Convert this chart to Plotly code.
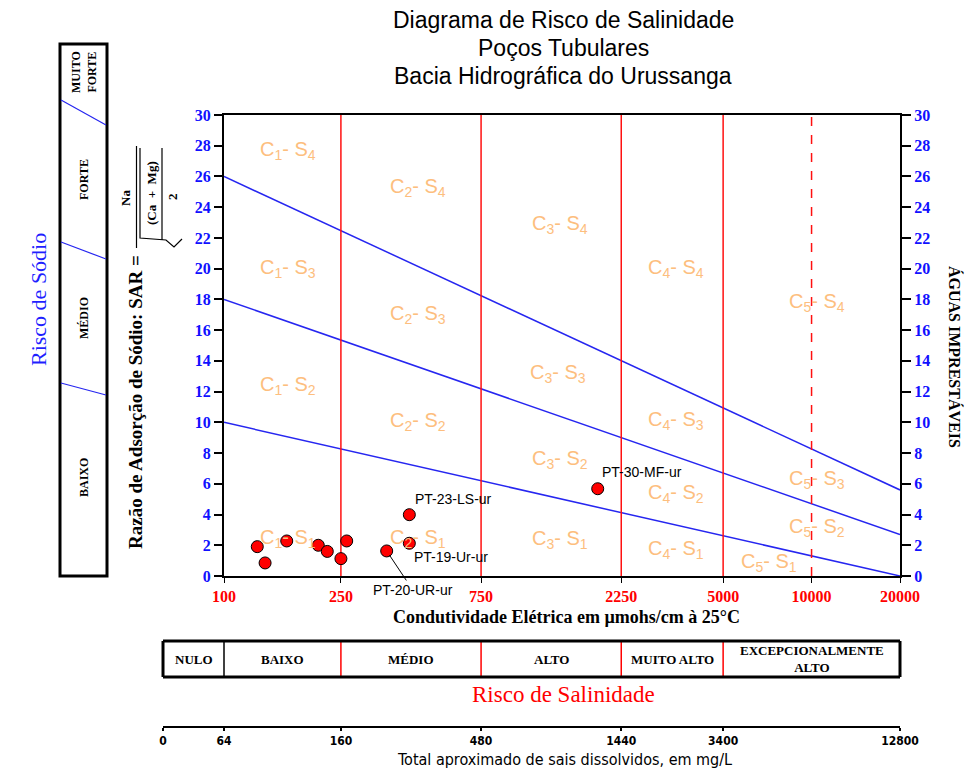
import math
import plotly.graph_objects as go

W, H = 967, 769

# ---------------- data ----------------
ec_points = [129.8, 138.0, 163.5, 209.4, 224.7, 250.0, 261.6, 357.9, 427.4, 427.4, 1871.0]
sar_points = [1.91, 0.85, 2.28, 2.00, 1.60, 1.13, 2.28, 1.63, 3.99, 2.13, 5.68]
point_names = ["", "", "", "", "", "", "", "PT-20-UR-ur", "PT-23-LS-ur", "PT-19-Ur-ur", "PT-30-MF-ur"]

ec_limits = [100, 20000]
sodium_line_start = [10, 18, 26]   # SAR at 100 µmhos/cm
sodium_line_end = [0, 2.7, 5.6]    # SAR at 20000 µmhos/cm

salinity_limits = [250, 750, 2250, 5000]
salinity_dashed = [10000]

ec_ticks = [100, 250, 750, 2250, 5000, 10000, 20000]
ec_tick_labels = ["100", "250", "750", "2250", "5000", "10000", "20000"]
sar_ticks = [0, 2, 4, 6, 8, 10, 12, 14, 16, 18, 20, 22, 24, 26, 28, 30]

tds_ec_equiv = [62.0, 100, 250, 750, 2250, 5000, 20000]
tds_labels = ["0", "64", "160", "480", "1440", "3400", "12800"]

salinity_classes = ["NULO", "BAIXO", "MÉDIO", "ALTO", "MUITO ALTO", "EXCEPCIONALMENTE<br>ALTO"]
salinity_edges = [62.0, 100, 250, 750, 2250, 5000, 20000]
salinity_edge_colors = ["black", "black", "red", "red", "red", "red", "black"]

sodium_classes = ["BAIXO", "MÉDIO", "FORTE", "MUITO<br>FORTE"]

zone_c = [1, 2, 3, 4, 5,  1, 2, 3, 4, 5,  1, 2, 3, 4, 5,  1, 2, 3, 4, 5]
zone_s = [4, 4, 4, 4, 4,  3, 3, 3, 3, 3,  2, 2, 2, 2, 2,  1, 1, 1, 1, 1]
zone_ec = [165, 457, 1392, 3455, 10433,
           165, 457, 1370, 3455, 10433,
           165, 457, 1392, 3455, 10433,
           165, 457, 1392, 3455, 7161]
zone_sar = [27.7, 25.3, 22.9, 20.0, 17.8,
            20.0, 17.0, 13.2, 10.1, 6.25,
            12.4, 10.05, 7.6, 5.4, 3.15,
            2.45, 2.45, 2.35, 1.7, 0.9]

# ---------------- helpers (pixel -> paper) ----------------
def PX(x):
    return x / W

def PY(y):
    return 1 - y / H

X0, X1 = 224, 900     # main plot area, pixels
Y0, Y1 = 115, 576

def ec_to_px(v):
    lo, hi = math.log10(ec_limits[0]), math.log10(ec_limits[1])
    return X0 + (math.log10(v) - lo) / (hi - lo) * (X1 - X0)

SERIF = "Liberation Serif, Times New Roman, serif"
SANS = "Liberation Sans, Arial, sans-serif"
NARROW = "DejaVu Sans Condensed, Liberation Sans Narrow, Arial Narrow, sans-serif"
ORANGE = "#FDBE7E"
BLUE = "#2626F0"
NB = "\u00a0"

fig = go.Figure()

# sodium-hazard boundary lines
for s0, s1 in zip(sodium_line_start, sodium_line_end):
    fig.add_trace(go.Scatter(x=ec_limits, y=[s0, s1], mode="lines",
                             line=dict(color=BLUE, width=1.5), hoverinfo="skip"))

# salinity class limits
for v in salinity_limits:
    fig.add_trace(go.Scatter(x=[v, v], y=[0, 30], mode="lines",
                             line=dict(color="#FF1010", width=1.5), hoverinfo="skip"))
for v in salinity_dashed:
    fig.add_trace(go.Scatter(x=[v, v], y=[0, 30], mode="lines",
                             line=dict(color="#FF1010", width=1.5, dash="dash"), hoverinfo="skip"))

# samples
fig.add_trace(go.Scatter(x=ec_points, y=sar_points, mode="markers",
                         marker=dict(size=12, color="#FF0000", line=dict(color="black", width=1)),
                         cliponaxis=False, hoverinfo="x+y"))

# right axis companion
fig.add_trace(go.Scatter(x=[ec_limits[0]], y=[None], yaxis="y2", mode="markers",
                         marker=dict(opacity=0), hoverinfo="skip"))
# TDS scale companion
fig.add_trace(go.Scatter(x=[1000], y=[None], xaxis="x3", mode="markers",
                         marker=dict(opacity=0), hoverinfo="skip"))

annotations = []
shapes = []


def paper_text(x, y, text, font, angle=0):
    annotations.append(dict(x=PX(x), y=PY(y), xref="paper", yref="paper", text=text,
                            textangle=angle, showarrow=False, xanchor="center",
                            yanchor="middle", font=font))


# zone labels
for c, s, xe, ys in zip(zone_c, zone_s, zone_ec, zone_sar):
    annotations.append(dict(x=math.log10(xe), y=ys, xref="x", yref="y",
                            text=f"C<sub>{c}</sub>- S<sub>{s}</sub>", showarrow=False,
                            xanchor="center", yanchor="middle",
                            font=dict(family=SANS, size=20, color=ORANGE)))

# point labels
label_style = {
    "PT-23-LS-ur": dict(xanchor="left", yanchor="middle", xshift=4, yshift=16, showarrow=False),
    "PT-19-Ur-ur": dict(xanchor="left", yanchor="middle", xshift=3, yshift=-14, showarrow=False),
    "PT-30-MF-ur": dict(xanchor="left", yanchor="middle", xshift=2, yshift=17, showarrow=False),
    "PT-20-UR-ur": dict(showarrow=True, ax=26, ay=39, arrowhead=0, arrowwidth=1,
                        arrowcolor="black", standoff=5),
}
for xe, ys, name in zip(ec_points, sar_points, point_names):
    if name:
        a = dict(x=math.log10(xe), y=ys, xref="x", yref="y", text=name,
                 font=dict(family=SANS, size=14, color="black"))
        a.update(label_style[name])
        annotations.append(a)

# title
for i, t in enumerate(["Diagrama de Risco de Salinidade", "Poços Tubulares",
                       "Bacia Hidrográfica do Urussanga"]):
    paper_text(563, 20 + i * 28, t, dict(family=SANS, size=23, color="black"))

# left sodium-hazard panel
shapes.append(dict(type="rect", xref="paper", yref="paper", x0=PX(60), x1=PX(107),
                   y0=PY(576), y1=PY(44), line=dict(color="black", width=3)))
for ya, yb in [(100, 125), (242, 259), (383, 395)]:
    shapes.append(dict(type="line", xref="paper", yref="paper", x0=PX(61), x1=PX(106),
                       y0=PY(ya), y1=PY(yb), line=dict(color=BLUE, width=1.2)))
for name, yc in zip(sodium_classes, [478, 318, 180, 72]):
    paper_text(84, yc, f"<b>{name}</b>", dict(family=SERIF, size=12, color="black"), -90)
paper_text(38, 300, "Risco de Sódio", dict(family=SERIF, size=22, color="#1F1FFF"), -90)

# SAR axis title and formula
paper_text(135, 402, "<b>Razão de Adsorção de Sódio: SAR =</b>",
           dict(family=SERIF, size=19, color="black"), -90)
paper_text(125, 198, "<b>Na</b>", dict(family=SERIF, size=13, color="black"), -90)
paper_text(151, 193, f"<b>(Ca{NB}{NB}+{NB}{NB}Mg)</b>", dict(family=SERIF, size=13, color="black"), -90)
paper_text(173, 197, "<b>2</b>", dict(family=SERIF, size=13, color="black"), -90)
shapes.append(dict(type="line", xref="paper", yref="paper", x0=PX(136.5), x1=PX(136.5),
                   y0=PY(146), y1=PY(248), line=dict(color="black", width=1.2)))
shapes.append(dict(type="line", xref="paper", yref="paper", x0=PX(162), x1=PX(162),
                   y0=PY(148), y1=PY(240), line=dict(color="black", width=1.2)))
shapes.append(dict(type="path", xref="paper", yref="paper",
                   path=f"M {PX(140)} {PY(148)} L {PX(140)} {PY(238)} L {PX(166)} {PY(240)} "
                        f"L {PX(174)} {PY(247)} L {PX(182)} {PY(239)}",
                   line=dict(color="black", width=1.2)))

# right title
paper_text(955, 357, "<b>ÁGUAS IMPRESTÁVEIS</b>", dict(family=SERIF, size=16, color="black"), 90)

# x title
paper_text(566, 617, "<b>Condutividade Elétrica em µmohs/cm à 25°C</b>",
           dict(family=SERIF, size=18, color="black"))

# salinity table
TY0, TY1 = 641, 677
for e, col in zip(salinity_edges, salinity_edge_colors):
    xp = ec_to_px(e)
    w = 3 if col == "black" and e in (salinity_edges[0], salinity_edges[-1]) else 1.5
    shapes.append(dict(type="line", xref="paper", yref="paper", x0=PX(xp), x1=PX(xp),
                       y0=PY(TY0), y1=PY(TY1), line=dict(color=col, width=w)))
for yy in (TY0, TY1):
    shapes.append(dict(type="line", xref="paper", yref="paper",
                       x0=PX(ec_to_px(salinity_edges[0])), x1=PX(ec_to_px(salinity_edges[-1])),
                       y0=PY(yy), y1=PY(yy), line=dict(color="black", width=3)))
for i, name in enumerate(salinity_classes):
    xc = (ec_to_px(salinity_edges[i]) + ec_to_px(salinity_edges[i + 1])) / 2
    paper_text(xc, 659, f"<b>{name}</b>", dict(family=SERIF, size=13, color="black"))
paper_text(563, 694, "Risco de Salinidade", dict(family=SERIF, size=23, color="#FF0000"))
paper_text(564, 759, "Total aproximado de sais dissolvidos, em mg/L",
           dict(family=NARROW, size=16, color="black"))

lo = math.log10(ec_limits[0])
hi = math.log10(ec_limits[1])

fig.update_layout(
    template="none",
    width=W, height=H, autosize=False,
    margin=dict(l=0, r=0, t=0, b=0, pad=0),
    paper_bgcolor="white", plot_bgcolor="rgba(0,0,0,0)",
    showlegend=False,
    xaxis=dict(type="log", range=[lo, hi], domain=[PX(X0), PX(X1)], anchor="y",
               automargin=False,
               tickmode="array", tickvals=ec_ticks,
               ticktext=[f"<b>{t}</b>" for t in ec_tick_labels],
               ticks="outside", ticklen=5, tickwidth=1, tickcolor="black",
               tickfont=dict(family=SERIF, size=16, color="#FF0000"),
               showline=True, linecolor="black", linewidth=2, mirror=True,
               showgrid=False, zeroline=False),
    yaxis=dict(range=[0, 30], domain=[PY(Y1), PY(Y0)], anchor="x",
               automargin=False,
               tickmode="array", tickvals=sar_ticks,
               ticktext=[f"<b>{t}</b>" for t in sar_ticks],
               ticks="outside", ticklen=8, tickwidth=2, tickcolor="black",
               tickfont=dict(family=SERIF, size=16, color="#1010FF"),
               showline=True, linecolor="black", linewidth=2,
               showgrid=False, zeroline=False),
    yaxis2=dict(range=[0, 30], overlaying="y", side="right", anchor="x",
                automargin=False,
                tickmode="array", tickvals=sar_ticks,
                ticktext=[f"<b>{t}</b>" for t in sar_ticks],
                ticks="outside", ticklen=9, tickwidth=2, tickcolor="black",
                tickfont=dict(family=SERIF, size=16, color="#1010FF"),
                showline=True, linecolor="black", linewidth=2,
                showgrid=False, zeroline=False),
    xaxis3=dict(type="log", range=[math.log10(tds_ec_equiv[0]), hi],
                domain=[PX(ec_to_px(tds_ec_equiv[0])), PX(X1)],
                anchor="free", position=PY(727), side="bottom",
                automargin=False,
                tickmode="array", tickvals=tds_ec_equiv,
                ticktext=[f"<b>{t}</b>" for t in tds_labels],
                ticks="outside", ticklen=3, tickwidth=1.5, tickcolor="black",
                tickfont=dict(family=NARROW, size=12, color="black"),
                showline=True, linecolor="black", linewidth=2,
                showgrid=False, zeroline=False),
    annotations=annotations,
    shapes=shapes,
)

fig.write_html("out.html")
